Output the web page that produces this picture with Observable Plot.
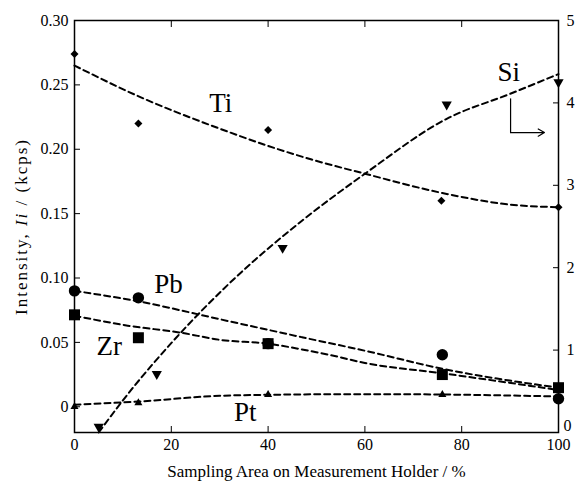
<!DOCTYPE html>
<html><head><meta charset="utf-8">
<script src="https://cdn.jsdelivr.net/npm/d3@7"></script>
<script src="https://cdn.jsdelivr.net/npm/@observablehq/plot@0.6"></script>
<style>body{margin:0;background:#fff}#chart{width:580px;height:482px}svg text{font-family:'Liberation Serif','Times New Roman',serif}</style>
</head><body><div id="chart"></div>
<script>
// ---- axes ----
const xTicks = [0, 20, 40, 60, 80, 100];
const leftTicks = [0, 0.05, 0.10, 0.15, 0.20, 0.25, 0.30];
const leftTickLabels = ["0", "0.05", "0.10", "0.15", "0.20", "0.25", "0.30"];
const rightTicks = [0, 1, 2, 3, 4, 5];
const rightTickLabels = ["0", "1", "2", "3", "4", "5"];
const leftDomain = [-0.02, 0.30];
const rightDomain = [0, 5];

// ---- measured points (left axis, kcps) ----
const tiX = [0, 13.2, 40, 75.8, 100];
const tiY = [0.274, 0.220, 0.215, 0.160, 0.155];
const pbX = [0, 13.2, 40, 76, 100];
const pbY = [0.090, 0.0846, 0.049, 0.0404, 0.0062];
const zrX = [0, 13.2, 40, 76, 100];
const zrY = [0.0714, 0.0536, 0.049, 0.025, 0.0148];
const ptX = [0, 13.2, 40, 76];
const ptY = [0.0, 0.003, 0.0093, 0.0093];
// Si on right axis
const siX = [5, 17, 43, 76.9, 100];
const siY = [0.07, 0.71, 2.24, 3.98, 4.25];

// ---- fitted dashed curves ----
const tiFitX = [0, 13, 30, 40, 49, 60, 76, 90, 100];
const tiFitY = [0.265, 0.2415, 0.216, 0.2026, 0.192, 0.181, 0.166, 0.157, 0.155];
const pbFitX = [0, 13, 30, 47, 60, 76, 100];
const pbFitY = [0.090, 0.082, 0.068, 0.054, 0.0435, 0.0295, 0.0148];
const zrFitX = [0, 11, 22, 30, 40, 47, 53, 60, 76, 100];
const zrFitY = [0.0707, 0.063, 0.0575, 0.052, 0.049, 0.0445, 0.040, 0.034, 0.026, 0.013];
const ptFitX = [0, 13, 30, 40, 60, 76, 100];
const ptFitY = [0.0016, 0.004, 0.0085, 0.0093, 0.0098, 0.0095, 0.008];
const siFitX = [5, 10, 21, 32, 47, 60, 77, 90, 100];
const siFitY = [0, 0.39, 1.15, 1.81, 2.57, 3.14, 3.81, 4.11, 4.35];

// ---- element labels (data coords; Si on right axis) ----
const labelNames = ["Ti", "Pb", "Zr", "Pt"];
const labelX = [30.2, 19.4, 7.2, 35.3];
const labelY = [0.236, 0.0947, 0.0466, -0.0047];
const siLabel = {name: "Si", x: 89.7, y: 4.37};
const siArrowX = [90.1, 97.1];
const siArrowY = [4.05, 3.64];

const k = (leftDomain[1] - leftDomain[0]) / (rightDomain[1] - rightDomain[0]);
const toLeft = v => leftDomain[0] + (v - rightDomain[0]) * k;
const fromLeft = d => rightDomain[0] + (d - leftDomain[0]) / k;

const pts = (xs, ys, f = d => d) => xs.map((x, i) => ({x, y: f(ys[i])}));
const dash = {stroke: "black", strokeWidth: 2, strokeDasharray: "6,4", curve: "monotone-x"};
const font = "Liberation Serif";

const chart = Plot.plot({
  width: 580, height: 482,
  marginLeft: 74, marginRight: 22, marginTop: 20, marginBottom: 50,
  style: {fontFamily: font, fontSize: "16px", color: "black", background: "white", overflow: "visible"},
  x: {domain: [0, 100]},
  y: {domain: leftDomain},
  marks: [
    Plot.frame({stroke: "black", strokeWidth: 1.5}),
    Plot.axisX({ticks: xTicks, tickSize: -6, tickPadding: 12, tickFormat: d => String(d),
      label: "Sampling Area on Measurement Holder / %", labelArrow: "none", labelAnchor: "center", labelOffset: 44}),
    Plot.axisX({anchor: "top", ticks: xTicks, tickSize: -6, tickFormat: () => "", label: null}),
    Plot.axisY({ticks: leftTicks, tickSize: -6, tickPadding: 12,
      tickFormat: d => leftTickLabels[leftTicks.findIndex(t => Math.abs(t - d) < 1e-9)],
      label: "Intensity, Ii / (kcps)", labelArrow: "none", labelAnchor: "center", labelOffset: 60}),
    Plot.axisY({anchor: "right", ticks: rightTicks.map(toLeft), tickSize: -6, tickPadding: 14,
      tickFormat: d => { const v = Math.round(fromLeft(d)); return v === 0 ? "" : rightTickLabels[rightTicks.indexOf(v)]; },
      label: null}),
    Plot.text([{x: 100, y: toLeft(rightTicks[0]), t: rightTickLabels[0]}],
      {x: "x", y: "y", text: "t", dx: 5, dy: -7, textAnchor: "start", fontSize: 16, fill: "black"}),
    // fitted curves
    Plot.line(pts(tiFitX, tiFitY), {x: "x", y: "y", ...dash}),
    Plot.line(pts(pbFitX, pbFitY), {x: "x", y: "y", ...dash}),
    Plot.line(pts(zrFitX, zrFitY), {x: "x", y: "y", ...dash}),
    Plot.line(pts(ptFitX, ptFitY), {x: "x", y: "y", ...dash}),
    Plot.line(pts(siFitX, siFitY, toLeft), {x: "x", y: "y", ...dash}),
    // points
    Plot.dot(pts(tiX, tiY), {x: "x", y: "y", symbol: "diamond2", r: 3.6, fill: "black"}),
    Plot.dot(pts(zrX, zrY), {x: "x", y: "y", symbol: "square", r: 6.2, fill: "black"}),
    Plot.dot(pts(pbX, pbY), {x: "x", y: "y", symbol: "circle", r: 5.7, fill: "black"}),
    Plot.dot(pts(ptX, ptY), {x: "x", y: "y", symbol: "triangle", r: 3.0, fill: "black"}),
    Plot.dot(pts(siX, siY, toLeft), {x: "x", y: "y", symbol: "triangle", r: 3.8, rotate: 180, fill: "black"}),
    // labels
    Plot.text(labelNames.map((n, i) => ({n, x: labelX[i], y: labelY[i]})),
      {x: "x", y: "y", text: "n", fontSize: 27, fill: "black"}),
    Plot.text([{n: siLabel.name, x: siLabel.x, y: toLeft(siLabel.y)}],
      {x: "x", y: "y", text: "n", fontSize: 27, fill: "black"}),
    Plot.line([{x: siArrowX[0], y: toLeft(siArrowY[0])}, {x: siArrowX[0], y: toLeft(siArrowY[1])}],
      {x: "x", y: "y", stroke: "black", strokeWidth: 1.2}),
    Plot.arrow([{x1: siArrowX[0], y1: toLeft(siArrowY[1]), x2: siArrowX[1], y2: toLeft(siArrowY[1])}],
      {x1: "x1", y1: "y1", x2: "x2", y2: "y2", stroke: "black", strokeWidth: 1.2, headLength: 9})
  ]
});
document.getElementById("chart").appendChild(chart);

chart.querySelectorAll("text").forEach(t => {
  t.style.fontFamily = "'Liberation Serif'";
  if (t.textContent.includes("Intensity")) {
    t.textContent = "";
    t.setAttribute("font-size", "17");
    t.setAttribute("letter-spacing", "2");
    const parts = [["Intensity, ", false], ["Ii", true], [" / (kcps)", false]];
    for (const [s, it] of parts) {
      const ts = document.createElementNS("http://www.w3.org/2000/svg", "tspan");
      ts.textContent = s;
      if (it) ts.setAttribute("font-style", "italic");
      t.appendChild(ts);
    }
  } else if (t.textContent.includes("Sampling")) {
    t.setAttribute("font-size", "17");
  }
});
</script></body></html>
